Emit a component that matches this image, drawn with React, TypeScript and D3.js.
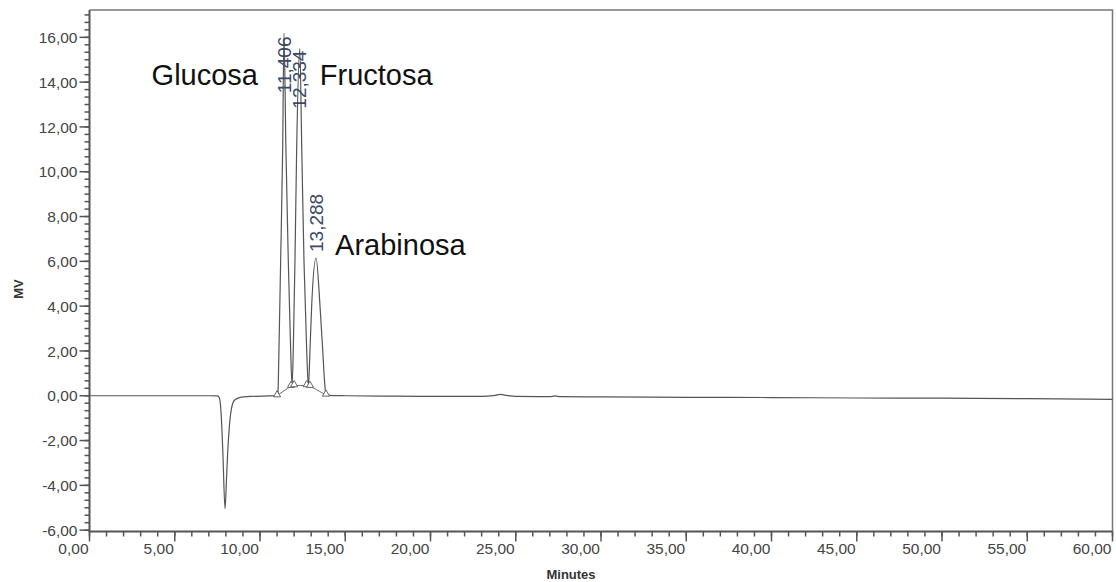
import React from 'react';
import * as d3 from 'd3';

const W = 1116;
const H = 582;
const plot = { left: 89.5, right: 1112.5, top: 10, bottom: 531.5 };

// detector trace, minutes / mV
const traceMinutes = [
  0, 2, 4, 6, 7, 7.5, 7.62, 7.72, 7.82, 7.95, 8.02, 8.1, 8.2, 8.32, 8.5, 8.8, 9.5, 10.5,
  11.0, 11.05, 11.11, 11.21, 11.33, 11.406, 11.52, 11.66, 11.8, 11.88,
  11.95, 12.05, 12.15, 12.334, 12.45, 12.58, 12.74, 12.84,
  12.93, 13.03, 13.288, 13.52, 13.68, 13.8, 13.87, 14.0, 15, 18, 20, 23,
  23.8, 24.1, 24.4, 25, 27, 27.3, 27.6, 30, 35, 40, 45, 50, 55, 60,
];
const traceMv = [
  0, 0, 0, 0, 0, -0.01, -0.1, -0.8, -2.5, -5.05, -4.0, -2.6, -1.4, -0.6, -0.2, -0.08, -0.03, -0.01,
  0.0, 0.1, 2.0, 6.0, 11.0, 16.19, 11.0, 6.0, 2.0, 0.45,
  2.0, 6.0, 11.0, 15.5, 11.0, 6.0, 2.0, 0.42,
  2.0, 4.0, 6.15, 4.0, 2.0, 0.5, 0.05, 0.02, 0.0, -0.02, -0.03, -0.03,
  0.02, 0.06, 0.02, -0.03, -0.04, -0.01, -0.04, -0.05, -0.07, -0.08, -0.1, -0.11, -0.13, -0.16,
];

const peakNames = ['Glucosa', 'Fructosa', 'Arabinosa'];
const peakRt = [11.406, 12.334, 13.288];
const peakHeight = [16.19, 15.5, 6.15];
const peakStart = [11.0, 12.0, 12.93];
const peakStartMv = [0.0, 0.45, 0.42];
const peakEnd = [11.82, 12.74, 13.87];
const peakEndMv = [0.42, 0.45, 0.03];

const xMajor = d3.range(0, 61, 5);
const xMinor = d3.range(0, 61, 1);
const yMajor = d3.range(-6, 17, 2);
const yMinor = d3.range(-18, 52).map(i => i / 3);

const nameLayout = [
  { anchor: 'end', dx: -26, y: 85 },
  { anchor: 'start', dx: 20, y: 85 },
  { anchor: 'start', dx: 19, y: 255 },
];

const fmt = (v: number, d = 2) => v.toFixed(d).replace('.', ',');
const font = '"Liberation Sans", Arial, sans-serif';
const ink = '#444';

const x = d3.scaleLinear().domain([0, 60]).range([plot.left, plot.right]);
const y = d3.scaleLinear().domain([-6.06, 17.22]).range([plot.bottom, plot.top]);

export default function App() {
  const points: [number, number][] = traceMinutes.map((t, i) => [t, traceMv[i]]);
  const line = d3.line<[number, number]>()
    .x(d => x(d[0]))
    .y(d => y(d[1]))
    .curve(d3.curveMonotoneX);

  const basePts: [number, number][] = [];
  peakStart.forEach((s, i) => {
    basePts.push([s, peakStartMv[i]]);
    basePts.push([peakEnd[i], peakEndMv[i]]);
  });
  const baseLine = d3.line<[number, number]>()
    .x(d => x(d[0]))
    .y(d => y(d[1]))
    .curve(d3.curveCatmullRom);

  const tri = d3.symbol().type(d3.symbolTriangle).size(22)();
  const rtFont = 19;
  const rtLen = 3.06 * rtFont;

  return (
    <div style={{ position: 'absolute', left: 0, top: 0 }}>
      <svg width={W} height={H} style={{ display: 'block', background: '#fff' }}>
        {/* frame */}
        <path d={`M${plot.left},${plot.top}H${plot.right}V${plot.bottom}`} fill="none" stroke="#777" strokeWidth={1.5} />

        {/* trace */}
        <path d={line(points) ?? ''} fill="none" stroke="#555" strokeWidth={1.2} />
        <path d={baseLine(basePts) ?? ''} fill="none" stroke="#666" strokeWidth={1} />
        {basePts.map((d, i) => (
          <path key={i} d={tri ?? ''} transform={`translate(${x(d[0])},${y(d[1]) - 1})`} fill="#fff" stroke="#555" strokeWidth={0.9} />
        ))}

        {/* retention time labels */}
        {peakRt.map((rt, i) => {
          const px = x(rt);
          const top = y(peakHeight[i]);
          const start = top - 6 - rtLen < plot.top ? top + rtLen + 2 : top - 6;
          return (
            <text key={rt} x={px} y={start} transform={`rotate(-90,${px},${start})`} dy="0.35em"
              fontFamily={font} fontSize={rtFont} fill="#3a4a66">{fmt(rt, 3)}</text>
          );
        })}

        {/* peak names */}
        {peakNames.map((n, i) => (
          <text key={n} x={x(peakRt[i]) + nameLayout[i].dx} y={nameLayout[i].y} textAnchor={nameLayout[i].anchor as any}
            fontFamily={font} fontSize={29} fill="#111">{n}</text>
        ))}

        {/* y axis */}
        <line x1={plot.left} x2={plot.left} y1={plot.top} y2={plot.bottom} stroke="#555" strokeWidth={2} />
        {yMinor.map(v => (
          <line key={'ym' + v} x1={plot.left - 5} x2={plot.left} y1={y(v)} y2={y(v)} stroke="#555" strokeWidth={1.5} />
        ))}
        {yMajor.map(v => (
          <g key={'y' + v}>
            <line x1={plot.left - 10} x2={plot.left} y1={y(v)} y2={y(v)} stroke="#555" strokeWidth={1.5} />
            <text x={plot.left - 12} y={y(v)} dy="0.36em" textAnchor="end" fontFamily={font} fontSize={15.5} fill={ink}>{fmt(v)}</text>
          </g>
        ))}
        <text transform={`translate(18,289) rotate(-90)`} textAnchor="middle" dy="0.35em" fontFamily={font} fontSize={13} fontWeight="bold" fill="#333">MV</text>

        {/* x axis */}
        <line x1={plot.left - 1} x2={plot.right} y1={plot.bottom} y2={plot.bottom} stroke="#555" strokeWidth={2} />
        {xMinor.map(v => (
          <line key={'xm' + v} x1={x(v)} x2={x(v)} y1={plot.bottom} y2={plot.bottom + 5} stroke="#555" strokeWidth={1.5} />
        ))}
        {xMajor.map(v => (
          <g key={'x' + v}>
            <line x1={x(v)} x2={x(v)} y1={plot.bottom} y2={plot.bottom + 10} stroke="#555" strokeWidth={1.5} />
            <text x={x(v) - 1} y={plot.bottom + 22} textAnchor="end" fontFamily={font} fontSize={15.5} fill={ink}>{fmt(v)}</text>
          </g>
        ))}
        <text x={571} y={579} textAnchor="middle" fontFamily={font} fontSize={13} fontWeight="bold" fill="#333">Minutes</text>
      </svg>
    </div>
  );
}
